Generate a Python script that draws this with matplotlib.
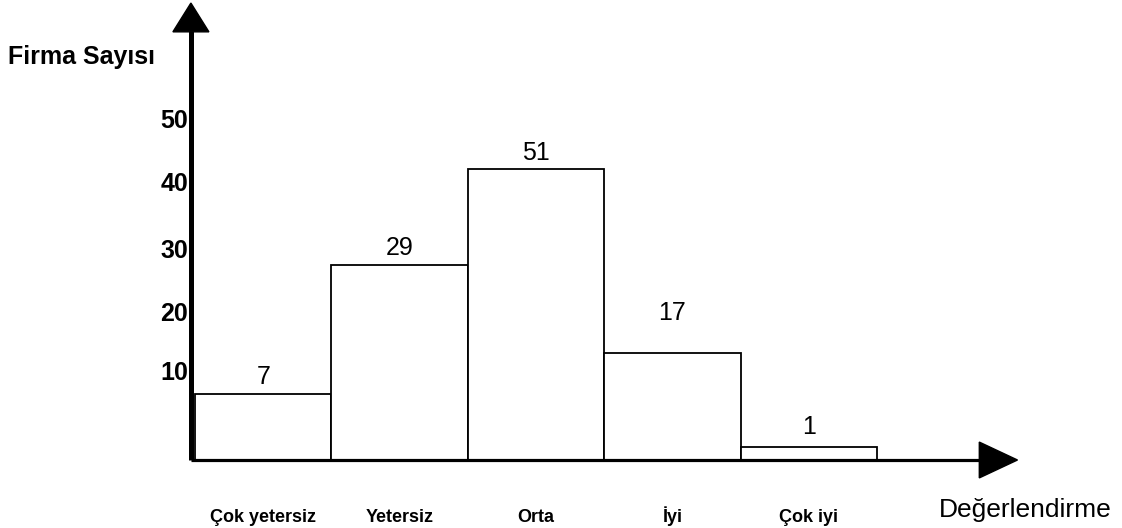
import matplotlib
matplotlib.use("Agg")
import matplotlib.pyplot as plt
from matplotlib.patches import Polygon

# ---- data ----
categories = ["Çok yetersiz", "Yetersiz", "Orta", "İyi", "Çok iyi"]
counts = [7, 29, 51, 17, 1]                      # printed values
bar_heights = [10.3, 30.5, 45.5, 16.7, 2.0]      # drawn bar heights (axis units)
tick_labels = ["10", "20", "30", "40", "50"]

# ---- layout (positions, in axis units) ----
tick_pos = [13.6, 22.8, 32.7, 43.1, 53.0]
label_pos = [13.0, 33.1, 48.0, 23.0, 5.1]
x_label_baseline = -9.7

plt.rcParams['font.family'] = ['Liberation Sans', 'DejaVu Sans']

fig = plt.figure(figsize=(11.22, 5.28), dpi=100)
ax = fig.add_axes([0, 0, 1, 1])
ax.set_xlim(-1.4296, 6.7962)
ax.set_ylim(-10.625, 71.875)
ax.axis('off')

x = list(range(len(categories)))
ax.bar(x, bar_heights, width=1.0, align='edge', color='white',
       edgecolor='black', linewidth=1.3, zorder=2)

for xi, c, ly in zip(x, counts, label_pos):
    ax.text(xi + 0.5, ly, str(c), ha='center', va='center',
            fontsize=18, fontweight='normal', color='black')

for xi, cat in zip(x, categories):
    ax.text(xi + 0.5, x_label_baseline, cat, ha='center', va='baseline',
            fontsize=13, fontweight='bold', color='black')

for tp, tl in zip(tick_pos, tick_labels):
    ax.text(-0.05, tp, tl, ha='right', va='center', fontsize=18,
            fontweight='bold', color='black')

# axes with arrow heads
ax_x = -0.03
ax.plot([ax_x, ax_x], [0, 67.0], color='black', linewidth=3.6,
        solid_capstyle='butt', zorder=3)
ax.plot([ax_x, 5.76], [0, 0], color='black', linewidth=2.3,
        solid_capstyle='butt', zorder=3)
ax.add_patch(Polygon([[ax_x - 0.132, 66.9], [ax_x + 0.132, 66.9], [ax_x, 71.4]],
                     closed=True, color='black', zorder=4))
ax.add_patch(Polygon([[5.75, 2.8], [5.75, -2.8], [6.03, 0]],
                     closed=True, color='black', zorder=4))

ax.text(-0.83, 63.0, "Firma Sayısı", ha='center', va='center',
        fontsize=18, fontweight='bold', color='black')
ax.text(6.085, -7.8, "Değerlendirme", ha='center', va='center',
        fontsize=19, color='black')

fig.savefig("out.png", dpi=100, facecolor='white')
